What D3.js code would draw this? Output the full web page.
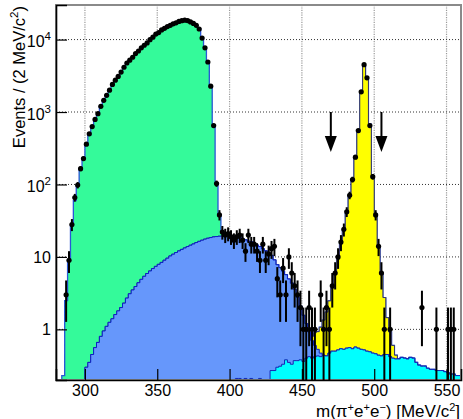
<!DOCTYPE html>
<html>
<head>
<meta charset="utf-8">
<script src="https://cdn.jsdelivr.net/npm/d3@7"></script>
<style>
  body { margin: 0; background: #fff; }
  svg { display: block; font-family: "Liberation Sans", Arial, Helvetica, sans-serif; }
</style>
</head>
<body>
<svg id="chart" width="463" height="419"></svg>
<script>
// Binning: 2 MeV/c^2 bins from 280 to 560 MeV/c^2 (bin centres)
const binCenters = d3.range(281, 560, 2);

// Simulated components, events per bin (rows of 10 bins = 20 MeV)
const greenMC = [
  0, 0, 0.23, 2.5, 9, 27, 60, 98, 160, 230,
  350, 480, 620, 780, 950, 1180, 1430, 1700, 2000, 2350,
  2700, 3100, 3550, 4100, 4650, 5150, 5700, 6300, 6900, 7600,
  8300, 9100, 9900, 10800, 11700, 12600, 13400, 14200, 15000, 15700,
  16400, 17100, 17700, 18200, 18400, 18200, 17600, 16700, 15600, 14000,
  10600, 7700, 4900, 2300, 640, 85, 18, 2.5, 0.5, 0,
  0, 0, 0, 0, 0, 0, 0, 0, 0, 0,
  0, 0, 0, 0, 0, 0, 0, 0, 0, 0,
  0, 0, 0, 0, 0, 0, 0, 0, 0, 0,
  0, 0, 0, 0, 0, 0, 0, 0, 0, 0,
  0, 0, 0, 0, 0, 0, 0, 0, 0, 0,
  0, 0, 0, 0, 0, 0, 0, 0, 0, 0,
  0, 0, 0, 0, 0, 0, 0, 0, 0, 0,
  0, 0, 0, 0, 0, 0, 0, 0, 0, 0
];
const blueMC = [
  0, 0, 0, 0, 0, 0, 0, 0, 0, 0,
  0.30, 0.35, 0.45, 0.56, 0.66, 0.80, 0.95, 1.1, 1.25, 1.4,
  1.6, 1.8, 2.0, 2.3, 2.7, 3.1, 3.5, 3.9, 4.4, 4.9,
  5.4, 5.9, 6.4, 6.9, 7.4, 7.9, 8.4, 9.0, 9.6, 10.3,
  10.9, 11.5, 12.1, 12.7, 13.3, 13.9, 14.5, 15.1, 15.8, 16.4,
  17.0, 17.6, 18.1, 18.5, 18.9, 19.1, 19.3, 19.4, 19.4, 19.3,
  19.1, 18.9, 18.6, 18.3, 17.7, 17.0, 16.4, 15.9, 15.3, 14.5,
  13.7, 12.9, 12.1, 11.3, 10.2, 8.8, 7.5, 6.8, 6.0, 5.3,
  4.6, 4.0, 3.2, 2.4, 1.7, 1.2, 0.8, 0.5, 0.3, 0.18,
  0.1, 0.05, 0, 0, 0, 0, 0, 0, 0, 0,
  0, 0, 0, 0, 0, 0, 0, 0, 0, 0,
  0, 0, 0, 0, 0, 0, 0, 0, 0, 0,
  0, 0, 0, 0, 0, 0, 0, 0, 0, 0,
  0, 0, 0, 0, 0, 0, 0, 0, 0, 0
];
const yellowMC = [
  0, 0, 0, 0, 0, 0, 0, 0, 0, 0,
  0, 0, 0, 0, 0, 0, 0, 0, 0, 0,
  0, 0, 0, 0, 0, 0, 0, 0, 0, 0,
  0, 0, 0, 0, 0, 0, 0, 0, 0, 0,
  0, 0, 0, 0, 0, 0, 0, 0, 0, 0,
  0, 0, 0, 0, 0, 0, 0, 0, 0, 0,
  0, 0, 0, 0, 0, 0, 0, 0, 0, 0,
  0, 0, 0, 0, 0, 0, 0, 0, 0, 0,
  0, 0, 0, 0, 0, 0, 0, 0, 0.1, 0.3,
  0.4, 0.6, 0.9, 1.3, 2.0, 3.2, 5.2, 8.8, 14.5, 22.5,
  39, 67, 115, 230, 520, 1800, 4300, 3000, 680, 125,
  37, 13.5, 5.5, 2.3, 1.0, 0.5, 0.2, 0.05, 0, 0,
  0, 0, 0, 0, 0, 0, 0, 0, 0, 0,
  0, 0, 0, 0, 0, 0, 0, 0, 0, 0
];
const cyanMC = [
  0, 0, 0, 0, 0, 0, 0, 0, 0, 0,
  0, 0, 0, 0, 0, 0, 0, 0, 0, 0,
  0, 0, 0, 0, 0, 0, 0, 0, 0, 0,
  0, 0, 0, 0, 0, 0, 0, 0, 0, 0,
  0, 0, 0, 0, 0, 0, 0, 0, 0, 0,
  0, 0, 0, 0, 0, 0, 0, 0, 0, 0,
  0, 0, 0.21, 0.21, 0, 0.21, 0, 0.21, 0, 0,
  0.21, 0, 0, 0, 0.27, 0.27, 0.30, 0.31, 0.33, 0.38,
  0.35, 0.33, 0.37, 0.37, 0.38, 0.36, 0.40, 0.42, 0.40, 0.42,
  0.43, 0.42, 0.44, 0.43, 0.47, 0.50, 0.50, 0.52, 0.54, 0.53,
  0.55, 0.56, 0.54, 0.57, 0.55, 0.53, 0.52, 0.50, 0.49, 0.47,
  0.46, 0.44, 0.43, 0.45, 0.45, 0.42, 0.40, 0.39, 0.39, 0.41,
  0.40, 0.39, 0.41, 0.40, 0.35, 0.32, 0.31, 0.31, 0.29, 0.28,
  0.28, 0.27, 0.27, 0.27, 0.26, 0.25, 0.24, 0.24, 0.23, 0.23
];

// Observed events per bin
const dataCounts = [
  0, 0, 0, 3, 9, 28, 66, 98, 165, 228,
  360, 500, 630, 790, 950, 1200, 1450, 1700, 2000, 2400,
  2750, 3100, 3560, 4150, 4750, 5200, 5700, 6400, 6950, 7700,
  8350, 9000, 9950, 10800, 11900, 12500, 13600, 14300, 15100, 15700,
  16500, 17000, 17800, 18200, 18500, 18300, 17500, 16700, 15700, 14000,
  10500, 7700, 4900, 2270, 650, 103, 38, 22, 20, 21,
  19, 17, 19, 20, 17, 12, 20, 15, 15, 12,
  9, 15, 9, 11, 13, 14, 5, 3, 7, 3,
  10, 6, 4, 3, 2, 1, 1, 2, 1, 1,
  0, 3, 1, 2, 1, 4, 6, 10, 16, 24,
  42, 71, 117, 238, 555, 1900, 4500, 2960, 650, 128,
  38, 14, 6, 1, 0, 1, 0, 0, 0, 0,
  0, 0, 0, 0, 0, 0, 2, 0, 0, 0,
  0, 1, 0, 0, 0, 1, 1, 1, 0, 0
];

// Axis ticks and labels
const xMajorTicks = [300, 350, 400, 450, 500, 550];
const xTickLabels = ["300", "350", "400", "450", "500", "550"];
const yMajorTicks = [1, 10, 100, 1000, 10000];
const yTickLabels = ["1", "10", "10^2", "10^3", "10^4"];

// Selection window on m(pi e e)
const cutValues = [470, 505];
const arrowFrom = 1000, arrowTo = 280;

// ---------------------------------------------------------------
const svg = d3.select("#chart");
const frame = { left: 56, right: 461, top: 5, bottom: 380 };

const x = d3.scaleLinear().domain([280, 560]).range([frame.left, frame.right]);
const y = d3.scaleLog().domain([0.2, 30000]).range([frame.bottom, frame.top]);
const yMin = y.domain()[0], yMax = y.domain()[1];
const yc = v => y(Math.min(Math.max(v, yMin), yMax));
const halfBin = (binCenters[1] - binCenters[0]) / 2;

svg.append("defs").append("clipPath").attr("id", "frameClip")
  .append("rect")
  .attr("x", frame.left).attr("y", frame.top)
  .attr("width", frame.right - frame.left).attr("height", frame.bottom - frame.top);

// Grid
const grid = svg.append("g");
grid.selectAll("line.gx").data(xMajorTicks).join("line")
  .attr("x1", d => x(d)).attr("x2", d => x(d))
  .attr("y1", frame.top).attr("y2", frame.bottom)
  .attr("stroke", "#9a9a9a").attr("stroke-width", 1.2).attr("stroke-dasharray", "1.2,1.2");
grid.selectAll("line.gy").data(yMajorTicks).join("line")
  .attr("x1", frame.left).attr("x2", frame.right)
  .attr("y1", d => y(d)).attr("y2", d => y(d))
  .attr("stroke", "#333").attr("stroke-width", 1).attr("stroke-dasharray", "1,2");

// Stacked simulation
const rows = binCenters.map((c, i) => ({
  cyan: cyanMC[i], blue: blueMC[i], yellow: yellowMC[i], green: greenMC[i]
}));
const layers = d3.stack().keys(["cyan", "blue", "yellow", "green"])(rows);
const style = {
  green:  { fill: "#34fa9a", stroke: "#2a56d6", width: 1.3 },
  yellow: { fill: "#ffff00", stroke: "#33336b", width: 1 },
  blue:   { fill: "#6697fb", stroke: "#0b1fc8", width: 1 },
  cyan:   { fill: "#00ffff", stroke: "#1626b4", width: 1 }
};
const stepArea = d3.area()
  .curve(d3.curveStepAfter)
  .x(d => x(d[0]))
  .y0(frame.bottom)
  .y1(d => yc(d[1]));
const stepLine = d3.line()
  .curve(d3.curveStepAfter)
  .x(d => x(d[0]))
  .y(d => yc(d[1]));

const hist = svg.append("g").attr("clip-path", "url(#frameClip)");
layers.slice().reverse().forEach(layer => {
  const pts = layer.map((d, i) => [binCenters[i] - halfBin, d[1]]);
  pts.push([binCenters[binCenters.length - 1] + halfBin, layer[layer.length - 1][1]]);
  const st = style[layer.key];
  hist.append("path").attr("d", stepArea(pts)).attr("fill", st.fill);
  hist.append("path").attr("d", stepLine(pts))
    .attr("fill", "none").attr("stroke", st.stroke).attr("stroke-width", st.width);
});

// Frame and axes
svg.append("rect")
  .attr("x", frame.left).attr("y", frame.top)
  .attr("width", frame.right - frame.left).attr("height", frame.bottom - frame.top)
  .attr("fill", "none").attr("stroke", "#8a8a8a").attr("stroke-width", 2);

const xMinorTicks = d3.range(290, 560, 10).filter(v => !xMajorTicks.includes(v));
const yMinorTicks = [];
for (let e = -1; e <= 4; e++) {
  for (let m = 2; m <= 9; m++) {
    const v = m * Math.pow(10, e);
    if (v >= yMin && v <= yMax) yMinorTicks.push(v);
  }
}

const axisFont = 16;
const gx = svg.append("g").attr("transform", `translate(0,${frame.bottom})`);
gx.call(d3.axisBottom(x).tickValues(xMinorTicks).tickSize(-5.5).tickFormat(""));
gx.call(d3.axisBottom(x).tickValues(xMajorTicks).tickSize(-11).tickPadding(5)
  .tickFormat((d, i) => xTickLabels[i]));
gx.selectAll("text").attr("font-size", axisFont).attr("fill", "#000")
  .attr("font-family", "Liberation Sans, Arial, sans-serif");

const gy = svg.append("g").attr("transform", `translate(${frame.left},0)`);
gy.call(d3.axisLeft(y).tickValues(yMinorTicks).tickSize(-6).tickFormat(""));
gy.call(d3.axisLeft(y).tickValues(yMajorTicks).tickSize(-11).tickFormat(""));
svg.selectAll(".domain").attr("stroke", "#000").attr("stroke-width", 1.6);
svg.selectAll(".tick line").attr("stroke", "#000").attr("stroke-width", 1.2);

// y tick labels with exponents
yMajorTicks.forEach((v, i) => {
  const parts = yTickLabels[i].split("^");
  const t = svg.append("text")
    .attr("x", frame.left - 5)
    .attr("y", y(v) + (parts.length > 1 ? 7.5 : 6))
    .attr("text-anchor", "end")
    .attr("font-size", axisFont);
  t.append("tspan").text(parts[0]);
  if (parts.length > 1) {
    t.append("tspan").attr("dy", -7).attr("font-size", 11.5).text(parts[1]);
  }
});

// Rich text helper: [text, isSuperscript]
function richText(sel, parts, supSize, shift) {
  let raised = false;
  parts.forEach(([txt, sup]) => {
    const ts = sel.append("tspan").text(txt);
    if (sup && !raised) { ts.attr("dy", -shift).attr("font-size", supSize); raised = true; }
    else if (sup) { ts.attr("font-size", supSize); }
    else if (!sup && raised) { ts.attr("dy", shift); raised = false; }
  });
}

// Axis titles
const yTitle = svg.append("text")
  .attr("transform", "translate(25,6) rotate(-90)")
  .attr("text-anchor", "end")
  .attr("font-size", 16.5);
richText(yTitle, [["Events / (2 MeV/c", false], ["2", true], [")", false]], 11.5, 7);

const xTitle = svg.append("text")
  .attr("x", 460).attr("y", 416.5)
  .attr("text-anchor", "end")
  .attr("font-size", 17);
richText(xTitle, [
  ["m(\u03c0", false], ["+", true], ["e", false], ["+", true], ["e", false], ["\u2212", true],
  [") [MeV/c", false], ["2", true], ["]", false]
], 11, 5.5);

// Data points with sqrt(N) errors
const points = binCenters.map((c, i) => ({ c, n: dataCounts[i] })).filter(d => d.n > 0);
const dataG = svg.append("g").attr("clip-path", "url(#frameClip)");
dataG.selectAll("line.ey").data(points).join("line")
  .attr("x1", d => x(d.c)).attr("x2", d => x(d.c))
  .attr("y1", d => yc(d.n + Math.sqrt(d.n)))
  .attr("y2", d => yc(d.n - Math.sqrt(d.n)))
  .attr("stroke", "#000").attr("stroke-width", 2);
dataG.selectAll("line.ex").data(points).join("line")
  .attr("x1", d => x(d.c - halfBin)).attr("x2", d => x(d.c + halfBin))
  .attr("y1", d => yc(d.n)).attr("y2", d => yc(d.n))
  .attr("stroke", "#000").attr("stroke-width", 2);
dataG.selectAll("circle").data(points).join("circle")
  .attr("cx", d => x(d.c)).attr("cy", d => yc(d.n)).attr("r", 2.6)
  .attr("fill", "#000");

// Cut arrows
const arrows = svg.append("g");
cutValues.forEach(v => {
  const ax = x(v), y0 = y(arrowFrom), y1 = y(arrowTo);
  arrows.append("line")
    .attr("x1", ax).attr("x2", ax).attr("y1", y0).attr("y2", y1 - 10)
    .attr("stroke", "#000").attr("stroke-width", 2);
  arrows.append("path")
    .attr("d", `M${ax - 6},${y1 - 16} L${ax + 6},${y1 - 16} L${ax},${y1} Z`)
    .attr("fill", "#000");
});
</script>
</body>
</html>
